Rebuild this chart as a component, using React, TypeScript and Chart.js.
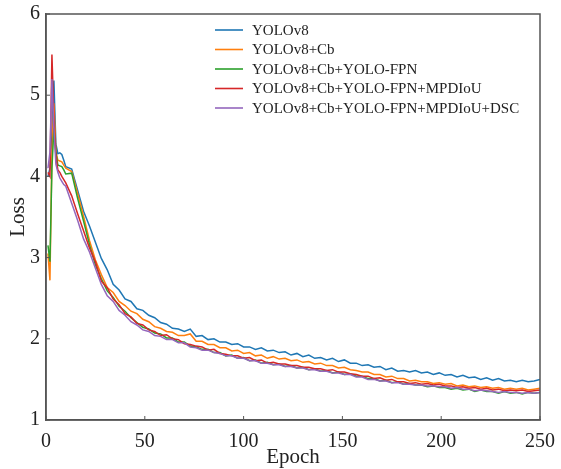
import { useEffect, useRef } from "react";
import { Chart, registerables } from "chart.js";

Chart.register(...registerables);

const epochs = [
  1, 2, 3, 4, 5, 6, 7, 8, 9,
  10, 13, 16, 19, 22, 25, 28, 31, 34, 37, 40, 43, 46, 49, 52, 55, 58, 61, 64, 67, 70,
  73, 76, 79, 82, 85, 88, 91, 94, 97, 100, 103, 106, 109, 112, 115, 118, 121, 124, 127, 130,
  133, 136, 139, 142, 145, 148, 151, 154, 157, 160, 163, 166, 169, 172, 175, 178, 181, 184, 187, 190,
  193, 196, 199, 202, 205, 208, 211, 214, 217, 220, 223, 226, 229, 232, 235, 238, 241, 244, 247, 250,
];

const yolov8 = [
  4.0, 4.1, 4.5, 5.18, 4.4, 4.28, 4.29, 4.27, 4.2,
  4.12, 4.09, 3.83, 3.57, 3.39, 3.19, 2.99, 2.85, 2.67, 2.6, 2.49, 2.46, 2.37, 2.35, 2.29, 2.26, 2.2, 2.18, 2.13, 2.12, 2.09,
  2.12, 2.03, 2.04, 1.99, 2.0, 1.96, 1.96, 1.93, 1.94, 1.9, 1.9, 1.87, 1.89, 1.85, 1.86, 1.83, 1.84, 1.8, 1.82, 1.78,
  1.8, 1.76, 1.77, 1.74, 1.76, 1.72, 1.74, 1.7, 1.7, 1.67, 1.68, 1.65, 1.66, 1.62, 1.64, 1.6, 1.61, 1.59, 1.61, 1.58,
  1.59, 1.56, 1.58, 1.55, 1.56, 1.53, 1.55, 1.52, 1.53, 1.5, 1.52, 1.49, 1.51, 1.48, 1.49, 1.47, 1.49, 1.47, 1.48, 1.5,
];

const yolov8Cb = [
  3.05, 2.72, 4.3, 4.9, 4.3, 4.2, 4.19, 4.18, 4.14,
  4.1, 4.06, 3.79, 3.51, 3.21, 2.97, 2.79, 2.63, 2.57, 2.46, 2.41, 2.34, 2.31, 2.24, 2.21, 2.15, 2.13, 2.09, 2.08, 2.04, 2.04,
  2.06, 1.97, 1.97, 1.93, 1.93, 1.89, 1.89, 1.85, 1.86, 1.82, 1.83, 1.79, 1.8, 1.76, 1.78, 1.75, 1.76, 1.73, 1.74, 1.71,
  1.72, 1.69, 1.7, 1.67, 1.67, 1.64, 1.65, 1.62, 1.61, 1.59, 1.59, 1.56, 1.56, 1.53, 1.54, 1.51, 1.51, 1.48, 1.49, 1.47,
  1.47, 1.45, 1.46, 1.44, 1.45, 1.42, 1.43, 1.41, 1.42, 1.4, 1.41, 1.39, 1.4, 1.38, 1.39, 1.38, 1.39, 1.37, 1.38, 1.39,
];

const yolov8CbFpn = [
  3.15, 2.95, 4.1, 4.6, 4.3, 4.14, 4.13, 4.12, 4.08,
  4.03, 4.04, 3.73, 3.45, 3.16, 2.91, 2.74, 2.59, 2.51, 2.4, 2.34, 2.26, 2.2, 2.14, 2.12, 2.07, 2.06, 2.01, 2.01, 1.96, 1.96,
  1.91, 1.9, 1.87, 1.87, 1.83, 1.83, 1.79, 1.8, 1.76, 1.77, 1.73, 1.74, 1.7, 1.71, 1.68, 1.69, 1.66, 1.67, 1.64, 1.65,
  1.62, 1.63, 1.6, 1.61, 1.58, 1.59, 1.56, 1.57, 1.54, 1.54, 1.51, 1.51, 1.48, 1.49, 1.46, 1.47, 1.44, 1.45, 1.43, 1.43,
  1.41, 1.42, 1.4, 1.4, 1.38, 1.39, 1.37, 1.38, 1.35, 1.37, 1.35, 1.35, 1.33, 1.35, 1.33, 1.34, 1.32, 1.34, 1.33, 1.34,
];

const yolov8CbFpnMpd = [
  4.05, 4.0, 5.5, 4.7, 4.25, 4.08, 4.05, 4.0, 3.96,
  3.92, 3.76, 3.54, 3.33, 3.12, 2.95, 2.71, 2.63, 2.49, 2.42, 2.31, 2.27, 2.19, 2.17, 2.11, 2.09, 2.04, 2.05, 2.0, 1.99, 1.94,
  1.93, 1.91, 1.9, 1.86, 1.87, 1.82, 1.81, 1.79, 1.79, 1.76, 1.77, 1.73, 1.74, 1.7, 1.71, 1.69, 1.69, 1.67, 1.67, 1.65,
  1.65, 1.63, 1.63, 1.61, 1.62, 1.59, 1.59, 1.57, 1.56, 1.54, 1.54, 1.51, 1.52, 1.49, 1.5, 1.47, 1.47, 1.45, 1.46, 1.44,
  1.45, 1.43, 1.44, 1.42, 1.42, 1.4, 1.41, 1.39, 1.4, 1.38, 1.39, 1.37, 1.38, 1.36, 1.37, 1.36, 1.37, 1.35, 1.36, 1.37,
];

const yolov8CbFpnMpdDsc = [
  4.1, 4.3, 5.2, 4.6, 4.15, 4.05, 3.98, 3.94, 3.9,
  3.88, 3.67, 3.46, 3.23, 3.07, 2.87, 2.67, 2.53, 2.46, 2.35, 2.29, 2.21, 2.17, 2.11, 2.09, 2.04, 2.03, 1.99, 1.99, 1.95, 1.95,
  1.9, 1.89, 1.86, 1.86, 1.83, 1.82, 1.79, 1.79, 1.76, 1.76, 1.73, 1.73, 1.7, 1.7, 1.68, 1.68, 1.66, 1.66, 1.64, 1.64,
  1.62, 1.62, 1.6, 1.6, 1.58, 1.58, 1.56, 1.56, 1.53, 1.53, 1.5, 1.5, 1.48, 1.48, 1.46, 1.46, 1.44, 1.44, 1.43, 1.43,
  1.42, 1.42, 1.41, 1.41, 1.39, 1.4, 1.38, 1.38, 1.36, 1.37, 1.36, 1.35, 1.34, 1.35, 1.34, 1.34, 1.33, 1.34, 1.33, 1.34,
];

const seriesLabels = [
  "YOLOv8",
  "YOLOv8+Cb",
  "YOLOv8+Cb+YOLO-FPN",
  "YOLOv8+Cb+YOLO-FPN+MPDIoU",
  "YOLOv8+Cb+YOLO-FPN+MPDIoU+DSC",
];
const seriesValues = [yolov8, yolov8Cb, yolov8CbFpn, yolov8CbFpnMpd, yolov8CbFpnMpdDsc];
const seriesColors = ["#1f77b4", "#ff7f0e", "#2ca02c", "#d62728", "#9467bd"];

const xTicks = [0, 50, 100, 150, 200, 250];
const yTicks = [1, 2, 3, 4, 5, 6];
const xTitle = "Epoch";
const yTitle = "Loss";

const SERIF = '"Liberation Serif", "Times New Roman", "DejaVu Serif", serif';
const AXIS_COLOR = "#555555";

export default function App() {
  const ref = useRef<HTMLCanvasElement>(null);

  useEffect(() => {
    if (!ref.current) return;

    const framePlugin = {
      id: "frameTicks",
      afterDatasetsDraw(chart: any) {
        const { ctx, chartArea } = chart;
        const { left, right, top, bottom } = chartArea;
        ctx.save();
        ctx.strokeStyle = AXIS_COLOR;
        ctx.lineWidth = 1.5;
        ctx.strokeRect(left, top, right - left, bottom - top);
        ctx.lineWidth = 1;
        const xs = chart.scales.x;
        const ys = chart.scales.y;
        ctx.beginPath();
        xTicks.forEach((v) => {
          const px = xs.getPixelForValue(v);
          ctx.moveTo(px, bottom);
          ctx.lineTo(px, bottom - 4);
        });
        yTicks.forEach((v) => {
          const py = ys.getPixelForValue(v);
          ctx.moveTo(left, py);
          ctx.lineTo(left + 4, py);
        });
        ctx.stroke();

        // legend
        ctx.font = `15px ${SERIF}`;
        ctx.textBaseline = "middle";
        ctx.textAlign = "left";
        seriesLabels.forEach((label, i) => {
          const y = top + 16 + i * 19.5;
          const x0 = left + 169;
          ctx.strokeStyle = seriesColors[i];
          ctx.lineWidth = 1.6;
          ctx.beginPath();
          ctx.moveTo(x0, y);
          ctx.lineTo(x0 + 28, y);
          ctx.stroke();
          ctx.fillStyle = "#222";
          ctx.fillText(label, x0 + 37, y + 1);
        });
        ctx.restore();
      },
    };

    const chart = new Chart(ref.current, {
      type: "line",
      data: {
        datasets: seriesLabels.map((label, i) => ({
          label,
          data: epochs.map((e, j) => ({ x: e, y: seriesValues[i][j] })),
          borderColor: seriesColors[i],
          backgroundColor: seriesColors[i],
          borderWidth: 1.5,
          pointRadius: 0,
          tension: 0,
          fill: false,
          order: seriesLabels.length - i,
        })),
      },
      options: {
        animation: false,
        responsive: false,
        maintainAspectRatio: false,
        layout: { padding: { top: 14, right: 21, left: 0, bottom: 0 } },
        plugins: {
          legend: { display: false },
          tooltip: { enabled: false },
        },
        scales: {
          x: {
            type: "linear",
            min: 0,
            max: 250,
            afterBuildTicks: (axis: any) => {
              axis.ticks = xTicks.map((v) => ({ value: v }));
            },
            afterFit: (axis: any) => {
              axis.height = 49;
              axis.paddingLeft = 0;
              axis.paddingRight = 0;
            },
            ticks: {
              font: { family: SERIF, size: 20 },
              color: "#222",
              padding: 10,
              maxRotation: 0,
              autoSkip: false,
            },
            grid: { display: false, drawTicks: false },
            border: { display: true, color: AXIS_COLOR, width: 1.5 },
            title: {
              display: true,
              text: xTitle,
              font: { family: SERIF, size: 21 },
              color: "#222",
              padding: { top: 0, bottom: -1 },
            },
          },
          y: {
            type: "linear",
            min: 1,
            max: 6,
            afterBuildTicks: (axis: any) => {
              axis.ticks = yTicks.map((v) => ({ value: v }));
            },
            afterFit: (axis: any) => {
              axis.width = 46;
              axis.paddingTop = 0;
              axis.paddingBottom = 0;
            },
            ticks: {
              font: { family: SERIF, size: 20 },
              color: "#222",
              padding: 6,
              autoSkip: false,
            },
            grid: { display: false, drawTicks: false },
            border: { display: true, color: AXIS_COLOR, width: 1.5 },
            title: {
              display: true,
              text: yTitle,
              font: { family: SERIF, size: 21 },
              color: "#222",
              padding: { top: 6, bottom: 0 },
            },
          },
        },
      },
      plugins: [framePlugin],
    });

    return () => chart.destroy();
  }, []);

  return (
    <div style={{ position: "absolute", left: 0, top: 0, width: 561, height: 469, background: "#fff" }}>
      <canvas ref={ref} width={561} height={469} style={{ display: "block" }} />
    </div>
  );
}
